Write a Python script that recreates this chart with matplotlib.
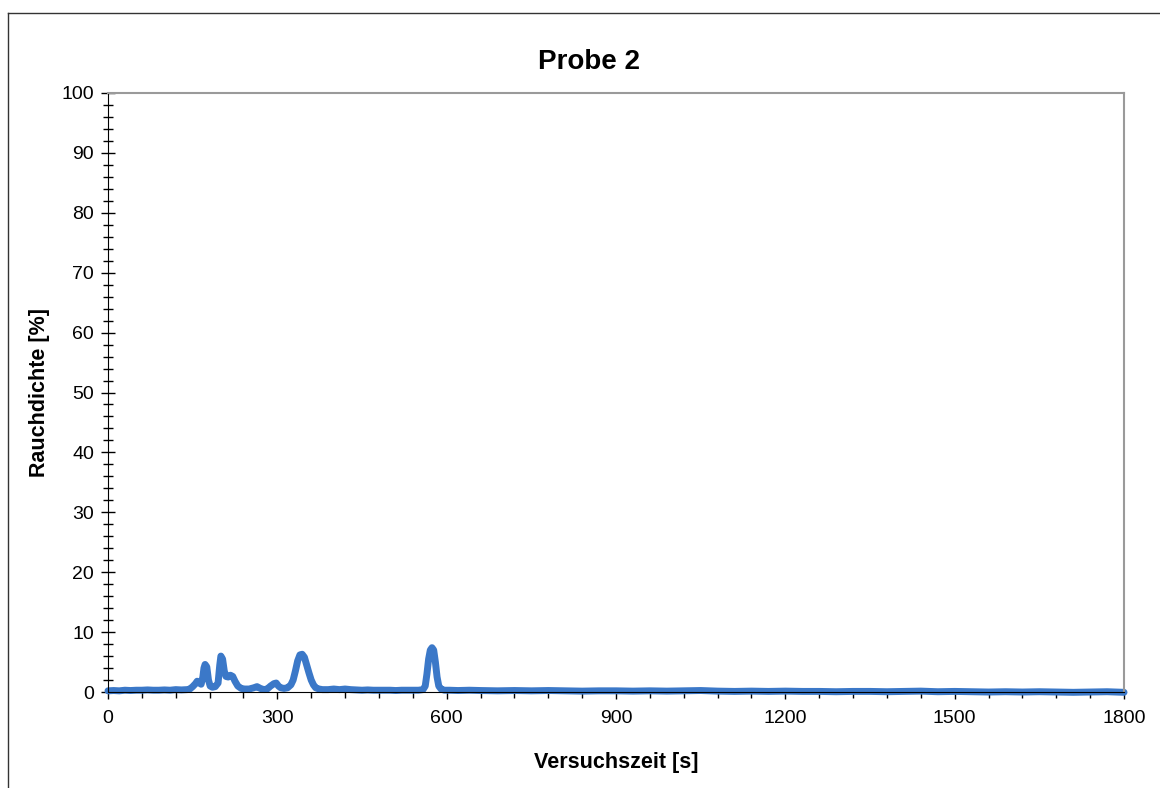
import matplotlib
matplotlib.use("Agg")
import matplotlib.pyplot as plt
from matplotlib.lines import Line2D
from matplotlib.ticker import MultipleLocator

plt.rcParams["font.family"] = ["Liberation Sans", "DejaVu Sans"]

# Versuchszeit [s] und Rauchdichte [%]
time_s = [
    0, 10, 20, 30, 40, 50, 60, 70, 80, 90, 100, 110, 120, 130, 140,
    145, 150, 155, 158, 162, 165, 168, 170, 172, 175, 178, 181, 185, 190,
    195, 198, 200, 203, 206, 209, 213, 217, 221, 225, 230, 236, 242, 250,
    258, 264, 270, 276, 282, 288, 294, 298, 302, 306, 312, 318, 324, 328,
    332, 336, 340, 344, 348, 352, 356, 360, 364, 368, 374, 380, 390, 400,
    410, 420, 430, 440, 450, 460, 470, 480, 490, 500, 510, 520, 530, 540,
    550, 558, 562, 565, 568, 571, 574, 577, 580, 583, 586, 590, 596, 605,
    620, 640, 660, 690, 720, 750, 780, 810, 840, 870, 900, 930, 960, 990,
    1020, 1050, 1080, 1110, 1140, 1170, 1200, 1230, 1260, 1290, 1320, 1350,
    1380, 1410, 1440, 1470, 1500, 1530, 1560, 1590, 1620, 1650, 1680, 1710,
    1740, 1770, 1800,
]
smoke_pct = [
    0.2, 0.25, 0.2, 0.3, 0.25, 0.3, 0.3, 0.35, 0.3, 0.3, 0.35, 0.3, 0.4, 0.35, 0.4,
    0.5, 0.9, 1.4, 1.8, 1.5, 1.3, 2.5, 4.0, 4.6, 4.2, 2.0, 1.0, 0.8, 0.9,
    1.5, 4.5, 6.0, 5.5, 3.5, 2.6, 2.5, 2.8, 2.6, 1.8, 1.0, 0.6, 0.5, 0.5,
    0.7, 0.9, 0.6, 0.4, 0.5, 1.0, 1.4, 1.5, 1.0, 0.7, 0.6, 0.7, 1.2, 2.0,
    3.5, 5.2, 6.2, 6.3, 5.8, 4.5, 3.2, 2.0, 1.2, 0.7, 0.5, 0.4, 0.4, 0.5,
    0.4, 0.5, 0.4, 0.35, 0.3, 0.35, 0.3, 0.3, 0.3, 0.3, 0.25, 0.3, 0.3, 0.3,
    0.3, 0.4, 1.0, 3.0, 5.5, 7.0, 7.4, 7.0, 5.0, 2.5, 1.0, 0.5, 0.3, 0.3,
    0.25, 0.3, 0.25, 0.2, 0.25, 0.2, 0.25, 0.2, 0.15, 0.2, 0.2, 0.15, 0.2, 0.15,
    0.2, 0.25, 0.15, 0.1, 0.15, 0.1, 0.15, 0.1, 0.1, 0.05, 0.1, 0.1,
    0.05, 0.1, 0.15, 0.05, 0.1, 0.05, 0.0, 0.05, 0.0, 0.05, 0.0, -0.05,
    0.0, 0.05, -0.05,
]

fig = plt.figure(figsize=(11.6, 7.88), dpi=100)
ax = fig.add_axes([0.0931, 0.1218, 0.8759, 0.7602])

ax.plot(time_s, smoke_pct, color="#3b78c8", linewidth=5,
        solid_joinstyle="round", solid_capstyle="round", clip_on=False)

ax.set_xlim(0, 1800)
ax.set_ylim(0, 100)
ax.xaxis.set_major_locator(MultipleLocator(300))
ax.xaxis.set_minor_locator(MultipleLocator(60))
ax.yaxis.set_major_locator(MultipleLocator(10))
ax.yaxis.set_minor_locator(MultipleLocator(2))

ax.tick_params(axis="x", which="major", direction="out", length=5, width=1,
               pad=8, labelsize=14)
ax.tick_params(axis="x", which="minor", direction="out", length=4.5, width=1)
ax.tick_params(axis="y", which="major", direction="inout", length=10, width=1,
               pad=5, labelsize=14)
ax.tick_params(axis="y", which="minor", direction="inout", length=7, width=1)

for side in ("top", "right"):
    ax.spines[side].set_color("#9a9a9a")
    ax.spines[side].set_linewidth(1.5)
ax.spines["left"].set_color("black")
ax.spines["bottom"].set_color("black")

ax.set_xlabel("Versuchszeit [s]", fontsize=15.5, fontweight="bold", labelpad=18)
ax.set_ylabel("Rauchdichte [%]", fontsize=15.5, fontweight="bold", labelpad=8)
fig.text(0.508, 0.921, "Probe 2", fontsize=20, fontweight="bold",
         ha="center", va="center")

# Rahmen um das Diagramm
frame_kw = dict(color="#333333", linewidth=1.0, transform=fig.transFigure)
fig.add_artist(Line2D([0.0069, 0.0069], [0.0, 0.9835], **frame_kw))
fig.add_artist(Line2D([0.0069, 1.0], [0.9835, 0.9835], **frame_kw))

fig.savefig("out.png", dpi=100)
